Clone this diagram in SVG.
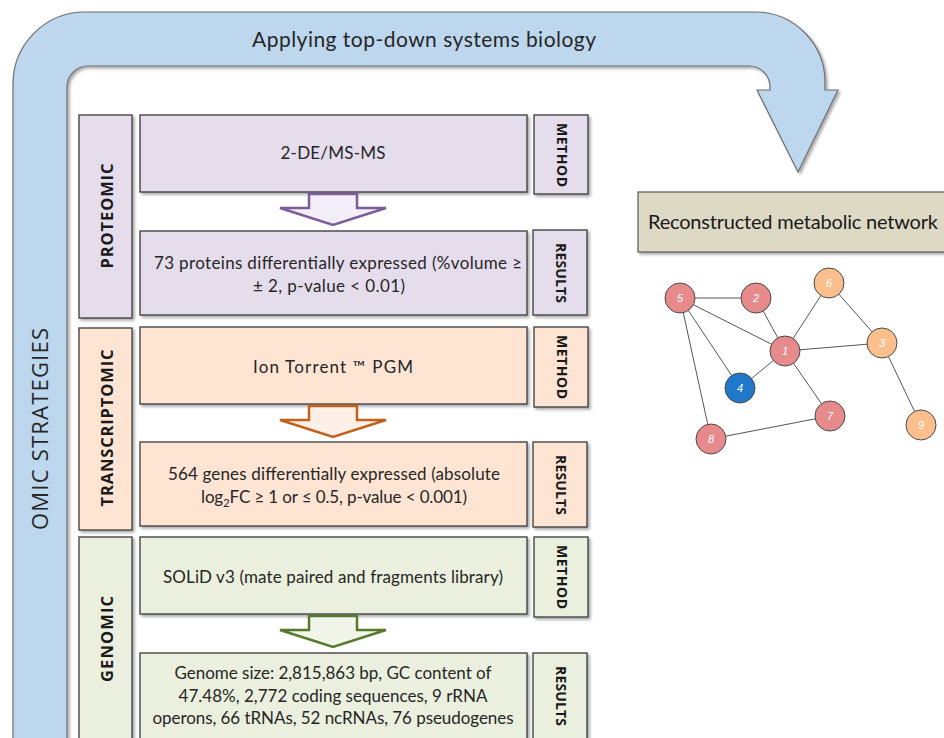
<svg xmlns="http://www.w3.org/2000/svg" width="944" height="738" viewBox="0 0 944 738">
<defs>
<filter id="sh" x="-10%" y="-10%" width="130%" height="130%">
<feDropShadow dx="2" dy="2" stdDeviation="1.5" flood-color="#000" flood-opacity="0.35"/>
</filter>
<style>
.box{stroke:#3a3a3a;stroke-width:1.3;filter:url(#sh)}
.prot{fill:#e5dcec}
.trans{fill:#fde4d3}
.gen{fill:#ebf0de}
.txt{font-family:Lato,"Liberation Sans",sans-serif;font-size:17px;fill:#262626;text-anchor:middle}
.lbl{font-family:"Open Sans","Liberation Sans",sans-serif;font-weight:bold;font-size:16.5px;fill:#1a1a1a;text-anchor:middle;dominant-baseline:central}
.tag{font-family:"Open Sans","Liberation Sans",sans-serif;font-weight:bold;font-size:14px;fill:#1a1a1a;text-anchor:middle;dominant-baseline:central}
.edge{stroke:#555;stroke-width:1}
.node{stroke:#4a4a4a;stroke-width:1}
.red{fill:#e68a8b}
.org{fill:#fbbf8d}
.blu{fill:#1f78c8}
.nl{font-family:"Liberation Sans",sans-serif;font-style:italic;font-size:11px;fill:#fff;text-anchor:middle;dominant-baseline:central}
.arr{stroke-width:2.5;stroke-linejoin:miter}
</style>
</defs>
<rect width="944" height="738" fill="#fff"/>

<g id="band">
<path d="M 13 745 L 13 84 A 72 72 0 0 1 85 12 L 755 12 A 70 70 0 0 1 825 82 L 825 90 L 838 90 L 798 172 L 757 90 L 770 90 L 770 87 A 21 21 0 0 0 749 66 L 88 66 A 21 21 0 0 0 67 87 L 67 745 Z" fill="#bdd7ee" stroke="#6f6f6f" stroke-width="1.2" filter="url(#sh)"/>
<text x="424" y="47" font-family="Lato,'Liberation Sans',sans-serif" font-size="21" fill="#262626" text-anchor="middle" textLength="344">Applying top-down systems biology</text>
<text transform="translate(39,429) rotate(-90)" font-family="'Open Sans','Liberation Sans',sans-serif" font-size="22" fill="#262626" text-anchor="middle" dominant-baseline="central" textLength="202">OMIC STRATEGIES</text>
</g>

<g id="proteomic">
<rect class="box prot" x="79" y="115" width="53" height="203"/>
<text class="lbl" transform="translate(106,216) rotate(-90)" textLength="105">PROTEOMIC</text>
<rect class="box prot" x="140" y="115" width="387" height="77"/>
<text class="txt" x="333" y="159" textLength="105">2-DE/MS-MS</text>
<rect class="box prot" x="534" y="115" width="54" height="79"/>
<text class="tag" transform="translate(562,155) rotate(90)" textLength="64">METHOD</text>
<path class="arr" d="M 309 194 L 357 194 L 357 208 L 386 208 L 333 225 L 280 208 L 309 208 Z" fill="#f3eef7" stroke="#7d5c9b"/>
<rect class="box prot" x="140" y="231" width="387" height="84"/>
<text class="txt" x="338" y="269" textLength="368">73 proteins differentially expressed (%volume ≥</text>
<text class="txt" x="329" y="292" textLength="152">± 2, p-value &lt; 0.01)</text>
<rect class="box prot" x="533" y="230" width="54" height="85"/>
<text class="tag" transform="translate(561,273) rotate(90)" textLength="60">RESULTS</text>
</g>

<g id="transcriptomic">
<rect class="box trans" x="79" y="328" width="53" height="202"/>
<text class="lbl" transform="translate(106,428) rotate(-90)" textLength="157">TRANSCRIPTOMIC</text>
<rect class="box trans" x="140" y="327" width="387" height="77"/>
<text class="txt" x="333" y="373" textLength="160">Ion Torrent ™ PGM</text>
<rect class="box trans" x="534" y="327" width="54" height="80"/>
<text class="tag" transform="translate(562,367) rotate(90)" textLength="64">METHOD</text>
<path class="arr" d="M 309 406 L 357 406 L 357 420 L 386 420 L 333 437 L 280 420 L 309 420 Z" fill="#fef0e6" stroke="#c0621e"/>
<rect class="box trans" x="140" y="442" width="387" height="84"/>
<text class="txt" x="334" y="480" textLength="332">564 genes differentially expressed (absolute</text>
<text class="txt" x="334" y="503" textLength="266">log<tspan font-size="11.5" dy="4">2</tspan><tspan dy="-4">FC ≥ 1 or ≤ 0.5, p-value &lt; 0.001)</tspan></text>
<rect class="box trans" x="533" y="442" width="54" height="85"/>
<text class="tag" transform="translate(561,485) rotate(90)" textLength="60">RESULTS</text>
</g>

<g id="genomic">
<rect class="box gen" x="79" y="537" width="53" height="215"/>
<text class="lbl" transform="translate(106,639) rotate(-90)" textLength="86">GENOMIC</text>
<rect class="box gen" x="140" y="537" width="387" height="77"/>
<text class="txt" x="333" y="583" textLength="340">SOLiD v3 (mate paired and fragments library)</text>
<rect class="box gen" x="534" y="537" width="54" height="80"/>
<text class="tag" transform="translate(562,577) rotate(90)" textLength="64">METHOD</text>
<path class="arr" d="M 309 616 L 357 616 L 357 630 L 386 630 L 333 647 L 280 630 L 309 630 Z" fill="#f2f5ea" stroke="#587a2c"/>
<rect class="box gen" x="140" y="653" width="387" height="90"/>
<text class="txt" x="333" y="679" textLength="317">Genome size: 2,815,863 bp, GC content of</text>
<text class="txt" x="333" y="702" textLength="309">47.48%, 2,772 coding sequences, 9 rRNA</text>
<text class="txt" x="333" y="724" textLength="361">operons, 66 tRNAs, 52 ncRNAs, 76 pseudogenes</text>
<rect class="box gen" x="533" y="653" width="54" height="90"/>
<text class="tag" transform="translate(561,696) rotate(90)" textLength="60">RESULTS</text>
</g>

<g id="network-title">
<rect x="638" y="192" width="320" height="60" fill="#ddd9c4" stroke="#5a5a5a" stroke-width="1.2" filter="url(#sh)"/>
<text x="648" y="229" font-family="Lato,'Liberation Sans',sans-serif" font-size="20" fill="#1a1a1a" textLength="290">Reconstructed metabolic network</text>
</g>

<g id="connectors">
<line class="edge" x1="680" y1="298" x2="756" y2="298"/>
<line class="edge" x1="680" y1="298" x2="785" y2="351"/>
<line class="edge" x1="680" y1="298" x2="740" y2="388"/>
<line class="edge" x1="680" y1="298" x2="711" y2="439"/>
<line class="edge" x1="756" y1="298" x2="785" y2="351"/>
<line class="edge" x1="785" y1="351" x2="829" y2="283"/>
<line class="edge" x1="785" y1="351" x2="882" y2="343"/>
<line class="edge" x1="785" y1="351" x2="740" y2="388"/>
<line class="edge" x1="785" y1="351" x2="830" y2="416"/>
<line class="edge" x1="829" y1="283" x2="882" y2="343"/>
<line class="edge" x1="882" y1="343" x2="921" y2="425"/>
<line class="edge" x1="711" y1="439" x2="830" y2="416"/>
</g>

<g id="n1"><circle class="node red" cx="785" cy="351" r="15"/><text class="nl" x="785" y="351">1</text></g>
<g id="n2"><circle class="node red" cx="756" cy="298" r="15"/><text class="nl" x="756" y="298">2</text></g>
<g id="n3"><circle class="node org" cx="882" cy="343" r="15"/><text class="nl" x="882" y="343">3</text></g>
<g id="n4"><circle class="node blu" cx="740" cy="388" r="15"/><text class="nl" x="740" y="388">4</text></g>
<g id="n5"><circle class="node red" cx="680" cy="298" r="15"/><text class="nl" x="680" y="298">5</text></g>
<g id="n6"><circle class="node org" cx="829" cy="283" r="15"/><text class="nl" x="829" y="283">6</text></g>
<g id="n7"><circle class="node red" cx="830" cy="416" r="15"/><text class="nl" x="830" y="416">7</text></g>
<g id="n8"><circle class="node red" cx="711" cy="439" r="15"/><text class="nl" x="711" y="439">8</text></g>
<g id="n9"><circle class="node org" cx="921" cy="425" r="15"/><text class="nl" x="921" y="425">9</text></g>
</svg>
